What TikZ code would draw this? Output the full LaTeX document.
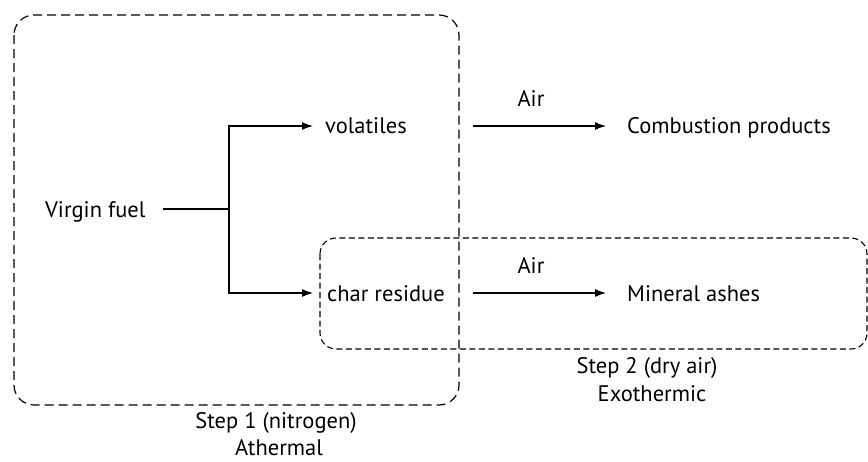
\documentclass[tikz,border=0pt]{standalone}
\usepackage{fontspec}
\setmainfont{PT Sans}
\usetikzlibrary{arrows.meta}
\begin{document}
\begin{tikzpicture}[x=1pt,y=-1pt,
  lbl/.style={inner sep=0pt,font=\fontsize{22.5}{26}\selectfont},
  conn/.style={line width=1.1pt},
  arr/.style={conn,-{Latex[length=11pt,width=8pt]}},
  bigbox/.style={draw,line width=1.2pt,dash pattern=on 9pt off 5pt,rounded corners=20pt},
  smallbox/.style={draw,line width=1.1pt,dash pattern=on 6pt off 3.5pt,rounded corners=16pt}]
\useasboundingbox (0,0) rectangle (868,461);
\draw[bigbox] (14,15) rectangle (459,405);
\draw[smallbox] (320,238) rectangle (867,349);
\node[lbl,anchor=base west] (vf) at (45,217) {Virgin fuel};
\node[lbl,anchor=base west] (vol) at (325,133) {volatiles};
\node[lbl,anchor=base west] (char) at (327,301) {char residue};
\node[lbl,anchor=base west] (comb) at (627,133) {Combustion products};
\node[lbl,anchor=base west] (ash) at (627,301) {Mineral ashes};
\node[lbl,anchor=base] (air1) at (531,106) {Air};
\node[lbl,anchor=base] (air2) at (531,273) {Air};
\node[lbl,anchor=base] (s2a) at (647,373) {Step 2 (dry air)};
\node[lbl,anchor=base] (s2b) at (652,401) {Exothermic};
\node[lbl,anchor=base] (s1a) at (276,428) {Step 1 (nitrogen)};
\node[lbl,anchor=base] (s1b) at (279,455) {Athermal};
\coordinate (br) at (229,209);
\coordinate (vin) at (313,126);
\coordinate (cin) at (313,293);
\draw[conn] (163,209) -- (br);
\draw[arr] (br) |- (vin);
\draw[arr] (br) |- (cin);
\coordinate (t1) at (473,126);
\coordinate (t2) at (606,126);
\coordinate (b1) at (473,293);
\coordinate (b2) at (606,293);
\draw[arr] (t1) -- (t2);
\draw[arr] (b1) -- (b2);
\end{tikzpicture}
\end{document}
